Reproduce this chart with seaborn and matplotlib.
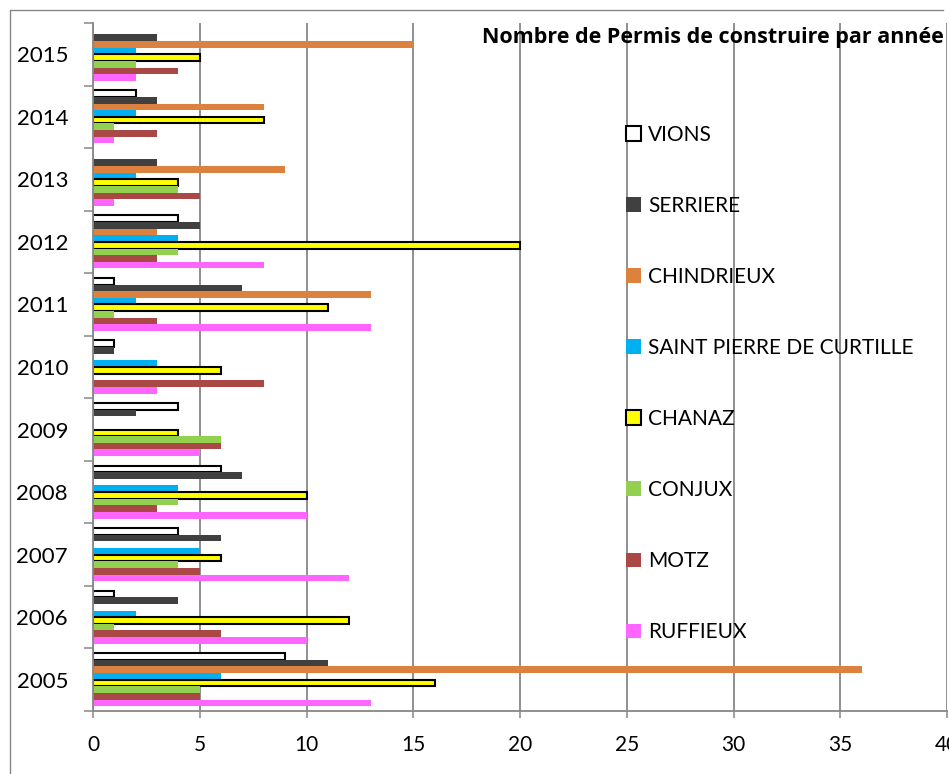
import matplotlib
matplotlib.use("Agg")
import matplotlib.pyplot as plt
from matplotlib.patches import Patch
from matplotlib.lines import Line2D
import numpy as np
import pandas as pd
import seaborn as sns

plt.rcParams["font.family"] = ["Lato", "DejaVu Sans"]

# Building permits per year and per commune
years = ["2015", "2014", "2013", "2012", "2011", "2010",
         "2009", "2008", "2007", "2006", "2005"]
communes = ["VIONS", "SERRIERE", "CHINDRIEUX", "SAINT PIERRE DE CURTILLE",
            "CHANAZ", "CONJUX", "MOTZ", "RUFFIEUX"]

vions = [0, 2, 0, 4, 1, 1, 4, 6, 4, 1, 9]
serriere = [3, 3, 3, 5, 7, 1, 2, 7, 6, 4, 11]
chindrieux = [15, 8, 9, 3, 13, 0, 0, 0, 0, 0, 36]
saint_pierre = [2, 2, 2, 4, 2, 3, 0, 4, 5, 2, 6]
chanaz = [5, 8, 4, 20, 11, 6, 4, 10, 6, 12, 16]
conjux = [2, 1, 4, 4, 1, 0, 6, 4, 4, 1, 5]
motz = [4, 3, 5, 3, 3, 8, 6, 3, 5, 6, 5]
ruffieux = [2, 1, 1, 8, 13, 3, 5, 10, 12, 10, 13]

x_ticks = [0, 5, 10, 15, 20, 25, 30, 35, 40]

series = [vions, serriere, chindrieux, saint_pierre, chanaz, conjux, motz, ruffieux]
face_colors = ["#FFFFFF", "#404040", "#DD823E", "#00B0F0",
               "#FFFF00", "#92D050", "#AA4845", "#FF66FF"]
edge_colors = ["#000000", "none", "none", "none",
               "#000000", "none", "none", "none"]

rows = []
for name, vals in zip(communes, series):
    for y, v in zip(years, vals):
        rows.append({"annee": y, "commune": name, "permis": v})
df = pd.DataFrame(rows)

W, H = 949, 774
fig = plt.figure(figsize=(W / 100, H / 100), dpi=100)
ax = fig.add_axes([93 / W, 1 - 711 / H, (947 - 93) / W, (711 - 23) / H])

sns.barplot(data=df, y="annee", x="permis", hue="commune",
            order=years, hue_order=communes, palette=face_colors,
            orient="h", width=0.85, gap=0, saturation=1,
            errorbar=None, legend=False, ax=ax)

for cont, ec in zip(ax.containers, edge_colors):
    for p in cont.patches:
        if p.get_width() == 0:
            p.set_visible(False)
            continue
        if ec == "none":
            p.set_edgecolor("none")
            p.set_linewidth(0)
        else:
            p.set_edgecolor(ec)
            p.set_linewidth(1.5)

grid_col = "#878787"
ax.set_axisbelow(True)
ax.set_xlim(0, 40)
ax.set_ylim(len(years) - 0.5, -0.5)
ax.set_xticks(x_ticks)
ax.set_xticklabels([str(t) for t in x_ticks])
ax.xaxis.grid(True, color=grid_col, linewidth=1.3)
ax.yaxis.grid(False)
ax.tick_params(axis="x", direction="out", length=5, width=1.1,
               color=grid_col, labelsize=15, pad=12)
ax.set_yticks(range(len(years)))
ax.set_yticklabels(years)
ax.tick_params(axis="y", which="major", length=0, labelsize=16, pad=18)
ax.set_yticks(np.arange(-0.5, len(years)), minor=True)
ax.tick_params(axis="y", which="minor", direction="out", length=6.5,
               width=1.1, color=grid_col)
ax.set_xlabel("")
ax.set_ylabel("")
for s in ["top", "right"]:
    ax.spines[s].set_visible(False)
for s in ["left", "bottom"]:
    ax.spines[s].set_color(grid_col)
    ax.spines[s].set_linewidth(1.3)

# legend to the right of the bars
handles = [Patch(facecolor=fc, edgecolor=(ec if ec != "none" else fc),
                 linewidth=1.5 if ec != "none" else 0)
           for fc, ec in zip(face_colors, edge_colors)]
fig.legend(handles, communes, loc="upper left",
           bbox_to_anchor=(626 / W, 1 - 125 / H), frameon=False,
           fontsize=15, handlelength=0.72, handleheight=0.72,
           handletextpad=0.35, labelspacing=2.45, borderpad=0,
           borderaxespad=0)

fig.text(482 / W, 1 - 37 / H, "Nombre de Permis de construire par année",
         fontsize=15.5, fontweight="bold", family=["Open Sans", "DejaVu Sans"],
         ha="left", va="center")

# chart area border
fig.add_artist(Line2D([10 / W, 10 / W, 943 / W], [0, 1 - 10 / H, 1 - 10 / H],
                      color=grid_col, linewidth=1.0))

fig.savefig("out.png", dpi=100)
